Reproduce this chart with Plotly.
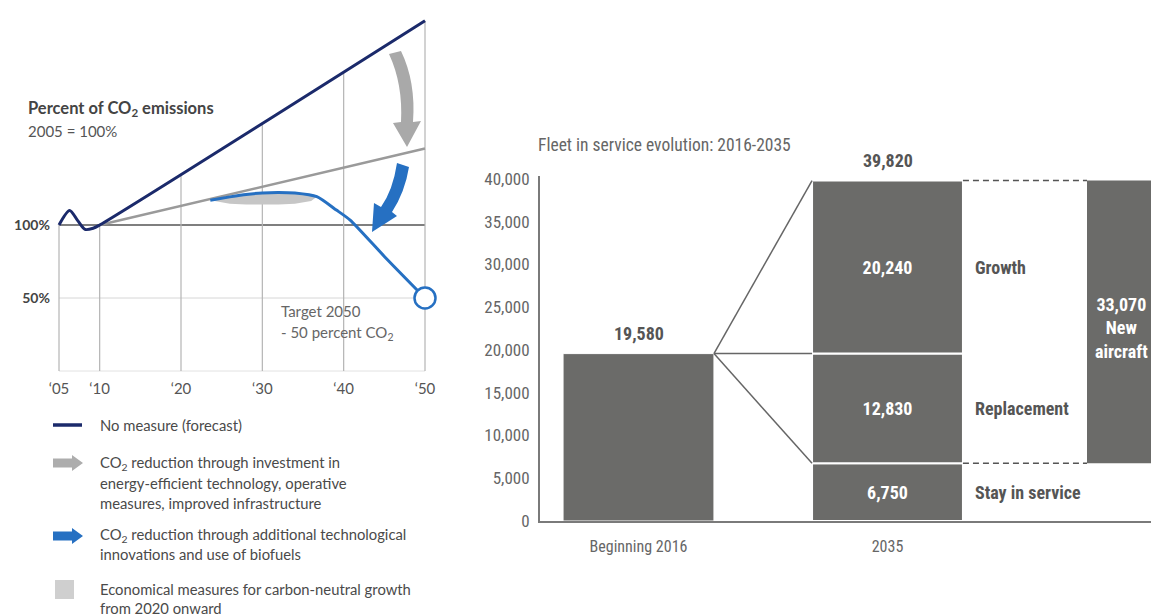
import numpy as np
import plotly.graph_objects as go

# ---------------- data: CO2 emissions index (2005 = 100%) ----------------
years_no_measure = [2005, 2006.3, 2007.3, 2008.2, 2009.2, 2010, 2050]
pct_no_measure = [100, 110, 103, 97, 97.8, 100, 240]

years_efficiency = [2010, 2050]
pct_efficiency = [100, 152.5]

years_biofuel = [2023.6, 2026, 2028, 2030, 2032, 2034, 2036.7, 2039.1, 2040.8, 2045, 2050]
pct_biofuel = [117, 119.3, 121, 122, 122.3, 121.9, 119.4, 110.3, 103.4, 78.5, 50]

# carbon-neutral growth band (upper edge then lower edge)
band_years = [2023.6, 2025, 2026, 2028, 2030, 2032, 2034, 2035.5, 2036.7,
              2036, 2034, 2032, 2030, 2028, 2026, 2024.5, 2023.6]
band_pct = [117, 118.3, 119.3, 121, 122, 122.3, 121.9, 120.8, 119.4,
            116.5, 114.6, 114.0, 113.8, 114.0, 114.6, 115.8, 117]

grid_years = [2005, 2010, 2020, 2030, 2040, 2050]
grid_labels = ["\u201805", "\u201810", "\u201820", "\u201830", "\u201840", "\u201850"]
pct_ticks = [50, 100]
pct_tick_labels = ["<b>50%</b>", "<b>100%</b>"]

# ---------------- data: fleet in service ----------------
fleet_categories = ["Beginning 2016", "2035"]
fleet_2016 = 19580
stay_in_service = 6750
replacement = 12830
growth = 20240
fleet_2035 = stay_in_service + replacement + growth      # 39,820
new_aircraft = replacement + growth                      # 33,070
segment_names = ["Stay in service", "Replacement", "Growth"]
fleet_ticks = list(range(0, 40001, 5000))

# ---------------- styling ----------------
W, H = 1151, 616
LATO = "Lato, Open Sans, sans-serif"
NARROW = "Liberation Sans Narrow, Arial Narrow, Roboto Condensed, Roboto, sans-serif"
NAVY = "#1b2a6b"
BLUE = "#2670c2"
GREY_LINE = "#9a9a9a"
BAR = "#6b6b69"


def fx(p):
    """pixel x -> paper x"""
    return p / W


def fy(p):
    """pixel y -> paper y"""
    return 1 - p / H


def ppath(pts):
    """SVG path from pixel coords -> paper coords."""
    out = []
    for tok in pts:
        if isinstance(tok, str):
            out.append(tok)
        else:
            out.append(f"{fx(tok[0]):.5f},{fy(tok[1]):.5f}")
    return " ".join(out)


fig = go.Figure()

# ---------- left panel ----------
grid_tops = np.interp(grid_years, years_no_measure, pct_no_measure)
gx, gy = [], []
for yr, top in zip(grid_years, grid_tops):
    gx += [yr, yr, None]
    gy += [0, top, None]
fig.add_trace(go.Scatter(x=gx, y=gy, mode="lines", line=dict(color="#b4b4b4", width=1.2),
                         hoverinfo="skip", showlegend=False, xaxis="x", yaxis="y"))

fig.add_trace(go.Scatter(x=band_years, y=band_pct, mode="lines", fill="toself",
                         fillcolor="#c6c6c6", line=dict(width=0),
                         hoverinfo="skip", showlegend=False, xaxis="x", yaxis="y"))

fig.add_trace(go.Scatter(x=years_efficiency, y=pct_efficiency, mode="lines",
                         line=dict(color=GREY_LINE, width=2.5),
                         showlegend=False, xaxis="x", yaxis="y"))

fig.add_trace(go.Scatter(x=years_no_measure, y=pct_no_measure, mode="lines",
                         line=dict(color=NAVY, width=3, shape="spline", smoothing=0.8),
                         showlegend=False, xaxis="x", yaxis="y"))

fig.add_trace(go.Scatter(x=years_biofuel, y=pct_biofuel, mode="lines",
                         line=dict(color=BLUE, width=3, shape="spline", smoothing=0.6),
                         showlegend=False, xaxis="x", yaxis="y"))

fig.add_trace(go.Scatter(x=[years_biofuel[-1]], y=[pct_biofuel[-1]], mode="markers",
                         marker=dict(size=21, color="white", line=dict(color=BLUE, width=2.5)),
                         cliponaxis=False, showlegend=False, xaxis="x", yaxis="y"))

# ---------- right panel ----------
cat_px = 249          # pixels between the two category centres
bar_w = 0.606
new_left = (1087 - 638.5) / cat_px     # left edge of the new-aircraft bar
new_w = 0.5                            # runs past the right edge of the page
new_label_x = (1121 - 638.5) / cat_px

fig.add_trace(go.Bar(x=[0], y=[fleet_2016], width=bar_w, marker=dict(color=BAR, line=dict(color="white", width=1)),
                     showlegend=False, xaxis="x2", yaxis="y2", hoverinfo="skip"))

bases = [0, stay_in_service, stay_in_service + replacement]
for name, base, val in zip(segment_names, bases, [stay_in_service, replacement, growth]):
    fig.add_trace(go.Bar(x=[1], y=[val], base=[base], width=bar_w,
                         marker=dict(color=BAR, line=dict(color="white", width=2)),
                         text=[f"{val:,}"], textposition="inside", insidetextanchor="middle",
                         textangle=0, constraintext="none",
                         textfont=dict(color="white", size=18, family=NARROW, weight="bold"),
                         name=name, showlegend=False, xaxis="x2", yaxis="y2", hoverinfo="skip"))

fig.add_trace(go.Bar(x=[new_left + new_w / 2], y=[new_aircraft], base=[stay_in_service], width=new_w,
                     marker=dict(color=BAR, line=dict(width=0)),
                     showlegend=False, xaxis="x2", yaxis="y2", hoverinfo="skip"))

# connectors from the 2016 bar to the 2035 segments
r1, l2 = bar_w / 2, 1 - bar_w / 2
cx, cy = [], []
for target in [fleet_2035, fleet_2016, stay_in_service]:
    cx += [r1, l2, None]
    cy += [fleet_2016, target, None]
fig.add_trace(go.Scatter(x=cx, y=cy, mode="lines", line=dict(color="#666", width=1.5),
                         hoverinfo="skip", showlegend=False, xaxis="x2", yaxis="y2"))

# dashed guides to the new-aircraft bar
dx, dy = [], []
for lvl in [fleet_2035, stay_in_service]:
    dx += [1 + bar_w / 2, new_left, None]
    dy += [lvl, lvl, None]
fig.add_trace(go.Scatter(x=dx, y=dy, mode="lines", line=dict(color="#555", width=1.5, dash="6px,4px"),
                         hoverinfo="skip", showlegend=False, xaxis="x2", yaxis="y2"))

# ---------------- layout ----------------
px_per_year = (425 - 59) / 45
px_per_pct = (371 - 20.7) / 240
x_lo, x_hi = 2004.5, 2050.5
y_lo, y_hi = -1, 245

fleet_px = (521 - 179) / 40000
fleet_top = 40300

layout = dict(
    width=W, height=H,
    margin=dict(l=0, r=0, t=0, b=0, pad=0, autoexpand=False),
    paper_bgcolor="white", plot_bgcolor="rgba(0,0,0,0)",
    barmode="overlay",
    xaxis=dict(domain=[fx(59 - 0.5 * px_per_year), fx(425 + 0.5 * px_per_year)], range=[x_lo, x_hi],
               tickvals=grid_years, ticktext=grid_labels, showgrid=False, zeroline=False,
               showline=False, ticks="", ticklabelstandoff=6, automargin=False,
               tickfont=dict(family=LATO, size=15, color="#555")),
    yaxis=dict(domain=[fy(371 + 1 * px_per_pct), fy(371 - y_hi * px_per_pct)], range=[y_lo, y_hi],
               tickvals=pct_ticks, ticktext=pct_tick_labels, showgrid=False, zeroline=False,
               showline=False, ticks="", ticklabelstandoff=4, automargin=False,
               tickfont=dict(family=LATO, size=14, color="#444")),
    xaxis2=dict(domain=[fx(540), 1], range=[-(638.5 - 540) / cat_px, (W - 638.5) / cat_px],
                tickvals=[0, 1], ticktext=fleet_categories, showgrid=False, zeroline=False,
                showline=True, linecolor="#7a7a7a", linewidth=2, ticks="", ticklabelstandoff=10,
                automargin=False, tickfont=dict(family=NARROW, size=16, color="#666"), anchor="y2"),
    yaxis2=dict(domain=[fy(521), fy(521 - fleet_top * fleet_px)], range=[0, fleet_top],
                tickvals=fleet_ticks, tickformat=",", showgrid=False, zeroline=False,
                showline=True, linecolor="#7a7a7a", linewidth=2, ticks="", ticklabelstandoff=5,
                automargin=False, tickfont=dict(family=NARROW, size=17, color="#666"), anchor="x2"),
)
fig.update_layout(**layout)

shapes = []
# reference lines
shapes.append(dict(type="line", xref="x", yref="y", x0=grid_years[0], x1=grid_years[-1], y0=0, y1=0,
                   line=dict(color="#e2e2e2", width=1), layer="below"))
shapes.append(dict(type="line", xref="x", yref="y", x0=grid_years[0], x1=grid_years[-1], y0=50, y1=50,
                   line=dict(color="#d6d6d6", width=1), layer="below"))
shapes.append(dict(type="line", xref="x", yref="y", x0=grid_years[0], x1=grid_years[-1], y0=100, y1=100,
                   line=dict(color="#555", width=1.5), layer="below"))

# curved arrows on the chart
shapes.append(dict(type="path", xref="paper", yref="paper", fillcolor="#a9a9a9", line=dict(width=0),
                   path=ppath(["M", (389, 54), "L", (401, 51), "Q", (416, 82), (413, 122), "L", (421, 121),
                               "L", (407, 147), "L", (393, 123), "L", (401, 122), "Q", (403, 84), (389, 54), "Z"])))
shapes.append(dict(type="path", xref="paper", yref="paper", fillcolor=BLUE, line=dict(width=0),
                   path=ppath(["M", (397, 163), "L", (409, 167), "Q", (405, 192), (392, 212), "L", (397, 216),
                               "L", (372, 232), "L", (374, 203), "L", (381, 207), "Q", (393, 190), (397, 163), "Z"])))

# legend symbols
shapes.append(dict(type="line", xref="paper", yref="paper", x0=fx(53), x1=fx(82), y0=fy(425), y1=fy(425),
                   line=dict(color=NAVY, width=3.5)))
for cyy, col in [(463, "#adadad"), (536, BLUE)]:
    shapes.append(dict(type="path", xref="paper", yref="paper", fillcolor=col, line=dict(width=0),
                       path=ppath(["M", (53, cyy - 4.5), "L", (72, cyy - 4.5), "L", (72, cyy - 8), "L", (83, cyy),
                                   "L", (72, cyy + 8), "L", (72, cyy + 4.5), "L", (53, cyy + 4.5), "Z"])))
shapes.append(dict(type="rect", xref="paper", yref="paper", x0=fx(55), x1=fx(74), y0=fy(599), y1=fy(580),
                   fillcolor="#cfcfcf", line=dict(width=0)))
fig.update_layout(shapes=shapes)

ann = []


def label(x, y, text, size, color, family, anchor="left", bold=False):
    ann.append(dict(xref="paper", yref="paper", x=fx(x), y=fy(y), text=f"<b>{text}</b>" if bold else text,
                    showarrow=False, xanchor=anchor, yanchor="middle",
                    font=dict(size=size, color=color, family=family)))


label(26, 108, "Percent of CO<sub>2</sub> emissions", 16.5, "#444", LATO, bold=True)
label(26, 131, "2005 = 100%", 15, "#555", LATO)
label(279, 311, "Target 2050", 15, "#666", LATO)
label(279, 333, "- 50 percent CO<sub>2</sub>", 15, "#666", LATO)

legend_lines = [
    (425, "No measure (forecast)"),
    (463, "CO<sub>2</sub> reduction through investment in"),
    (483, "energy-efficient technology, operative"),
    (503, "measures, improved infrastructure"),
    (535, "CO<sub>2</sub> reduction through additional technological"),
    (554, "innovations and use of biofuels"),
    (589, "Economical measures for carbon-neutral growth"),
    (608, "from 2020 onward"),
]
for yy, txt in legend_lines:
    label(98, yy, txt, 14.8, "#4a4a4a", LATO)

label(536, 145, "Fleet in service evolution: 2016-2035", 17.5, "#666", NARROW)

# totals above the bars
for xc, total in [(0, fleet_2016), (1, fleet_2035)]:
    ann.append(dict(xref="x2", yref="y2", x=xc, y=total, text=f"<b>{total:,}</b>", showarrow=False,
                    yanchor="bottom", yshift=8, font=dict(size=18, color="#555", family=NARROW)))

# segment names beside the 2035 bar
for name, base, val in zip(segment_names, bases, [stay_in_service, replacement, growth]):
    ann.append(dict(xref="x2", yref="y2", x=1 + bar_w / 2, y=base + val / 2, text=f"<b>{name}</b>",
                    showarrow=False, xanchor="left", xshift=10,
                    font=dict(size=18, color="#555", family=NARROW)))

# label of the new-aircraft bar
ann.append(dict(xref="x2", yref="y2", x=new_label_x, y=stay_in_service + new_aircraft / 2,
                text=f"<b>{new_aircraft:,}<br>New<br>aircraft</b>", showarrow=False, yshift=-6,
                font=dict(size=18, color="white", family=NARROW)))

fig.update_layout(annotations=ann)

fig.write_html("out.html")
